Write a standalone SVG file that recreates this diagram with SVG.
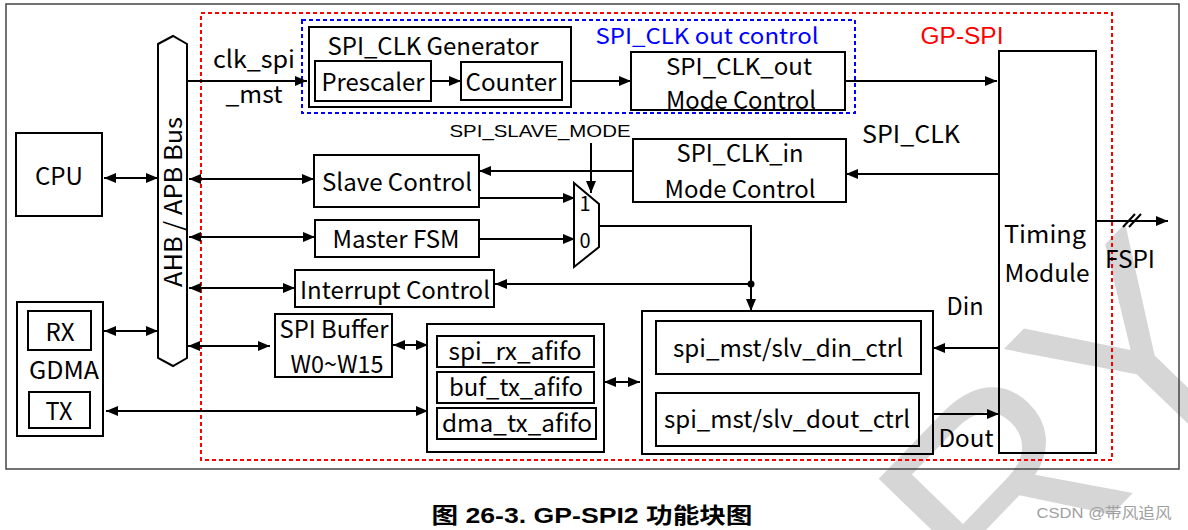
<svg xmlns="http://www.w3.org/2000/svg" width="1188" height="530" viewBox="0 0 1188 530">
<style>
.box{fill:none;stroke:#000;stroke-width:2}
.ln{fill:none;stroke:#000;stroke-width:2}
.t{font-family:"Noto Sans CJK SC","Noto Sans",sans-serif;font-size:24px;fill:#000;text-anchor:middle}
.a{font-family:"Liberation Sans",Arial,sans-serif;fill:#000;text-anchor:middle}
</style>
<defs>
<marker id="ah" markerUnits="userSpaceOnUse" markerWidth="12" markerHeight="12" viewBox="0 0 12 12" refX="12" refY="6" orient="auto-start-reverse">
<path d="M0,1 L12,6 L0,11 Z" fill="#000"/>
</marker>
</defs>
<rect width="1188" height="530" fill="#fff"/>
<g id="watermark">
<text transform="translate(1268,353) rotate(-46)" x="0" y="0" style="font-family:'Liberation Sans',Arial,sans-serif;font-size:280px;fill:#d6d6d6;text-anchor:end">PRELIMINARY</text>
</g>
<rect x="6" y="4" width="1173" height="465" fill="none" stroke="#444" stroke-width="1.5"/>
<g id="gp-spi">
<rect x="201" y="13" width="911" height="447" fill="none" stroke="#f00" stroke-width="2" stroke-dasharray="4,3"/>
<text class="a" x="962" y="44" font-size="23" style="fill:#f00" textLength="83" lengthAdjust="spacingAndGlyphs">GP-SPI</text>
</g>
<g id="clk-out-control">
<rect x="302" y="20" width="553" height="93" fill="none" stroke="#00f" stroke-width="2" stroke-dasharray="4,3"/>
<text class="t" x="707" y="44" style="fill:#00f;font-size:22px" textLength="223" lengthAdjust="spacingAndGlyphs">SPI_CLK out control</text>
</g>
<g id="cpu">
<rect class="box" x="16" y="133" width="86" height="83"/>
<text class="t" x="59" y="185" textLength="48" lengthAdjust="spacingAndGlyphs">CPU</text>
</g>
<g id="bus">
<path class="box" d="M158,44 L173,36 L187,44 L187,358 L173,366 L158,358 Z"/>
<text class="t" transform="translate(182,202) rotate(-90)" x="0" y="0" textLength="170" lengthAdjust="spacingAndGlyphs">AHB / APB Bus</text>
</g>
<g id="gdma">
<rect class="box" x="17" y="302" width="86" height="134"/>
<rect class="box" x="28" y="311" width="63" height="39"/>
<rect class="box" x="29" y="392" width="61" height="36"/>
<text class="t" x="60" y="341" textLength="29" lengthAdjust="spacingAndGlyphs">RX</text>
<text class="t" x="64" y="379" textLength="70" lengthAdjust="spacingAndGlyphs">GDMA</text>
<text class="t" x="59" y="420" textLength="27" lengthAdjust="spacingAndGlyphs">TX</text>
</g>
<g id="clk-gen">
<rect class="box" x="309" y="27" width="262" height="80"/>
<text class="t" x="433" y="55" textLength="211" lengthAdjust="spacingAndGlyphs">SPI_CLK Generator</text>
<rect class="box" x="315" y="61" width="116" height="40"/>
<text class="t" x="373" y="91" textLength="103" lengthAdjust="spacingAndGlyphs">Prescaler</text>
<rect class="box" x="461" y="62" width="101" height="38"/>
<text class="t" x="511" y="91" textLength="91" lengthAdjust="spacingAndGlyphs">Counter</text>
</g>
<g id="clk-out">
<rect class="box" x="631" y="52" width="214" height="58"/>
<text class="t" x="739" y="75" style="font-size:23px" textLength="146" lengthAdjust="spacingAndGlyphs">SPI_CLK_out</text>
<text class="t" x="741" y="109" textLength="150" lengthAdjust="spacingAndGlyphs">Mode Control</text>
</g>
<g id="clk-in">
<rect class="box" x="633" y="139" width="213" height="63"/>
<text class="t" x="740" y="162" textLength="127" lengthAdjust="spacingAndGlyphs">SPI_CLK_in</text>
<text class="t" x="740" y="198" textLength="151" lengthAdjust="spacingAndGlyphs">Mode Control</text>
</g>
<g id="slave">
<rect class="box" x="314" y="155" width="165" height="52"/>
<text class="t" x="397" y="191" textLength="150" lengthAdjust="spacingAndGlyphs">Slave Control</text>
</g>
<g id="master">
<rect class="box" x="315" y="220" width="164" height="37"/>
<text class="t" x="396" y="248" textLength="127" lengthAdjust="spacingAndGlyphs">Master FSM</text>
</g>
<g id="mux">
<path class="box" d="M574,183 L599,204 L599,247 L574,267 Z"/>
<text class="t" x="585" y="211" style="font-size:20px">1</text>
<text class="t" x="585" y="248" style="font-size:20px">0</text>
</g>
<g id="interrupt">
<rect class="box" x="295" y="270" width="199" height="37"/>
<text class="t" x="395" y="299" textLength="190" lengthAdjust="spacingAndGlyphs">Interrupt Control</text>
</g>
<g id="buffer">
<rect class="box" x="275" y="314" width="117" height="63"/>
<text class="t" x="334" y="338" textLength="109" lengthAdjust="spacingAndGlyphs">SPI Buffer</text>
<text class="t" x="337" y="373" textLength="93" lengthAdjust="spacingAndGlyphs">W0~W15</text>
</g>
<g id="afifo">
<rect class="box" x="427" y="324" width="177" height="128"/>
<rect class="box" x="437" y="336" width="157" height="31"/>
<rect class="box" x="437" y="372" width="157" height="31"/>
<rect class="box" x="437" y="408" width="159" height="31"/>
<text class="t" x="515" y="360" textLength="133" lengthAdjust="spacingAndGlyphs">spi_rx_afifo</text>
<text class="t" x="516" y="396" textLength="134" lengthAdjust="spacingAndGlyphs">buf_tx_afifo</text>
<text class="t" x="517" y="432" textLength="150" lengthAdjust="spacingAndGlyphs">dma_tx_afifo</text>
</g>
<g id="ctrl">
<rect class="box" x="642" y="311" width="291" height="143"/>
<rect class="box" x="656" y="321" width="265" height="53"/>
<rect class="box" x="656" y="393" width="263" height="53"/>
<text class="t" x="788" y="357" textLength="230" lengthAdjust="spacingAndGlyphs">spi_mst/slv_din_ctrl</text>
<text class="t" x="787" y="428" textLength="246" lengthAdjust="spacingAndGlyphs">spi_mst/slv_dout_ctrl</text>
</g>
<g id="timing">
<rect class="box" x="999" y="51" width="97" height="402"/>
<text class="t" x="1045" y="243" textLength="82" lengthAdjust="spacingAndGlyphs">Timing</text>
<text class="t" x="1047" y="282" textLength="85" lengthAdjust="spacingAndGlyphs">Module</text>
</g>
<g id="connectors">
<line class="ln" x1="104" y1="178" x2="158" y2="178" marker-start="url(#ah)" marker-end="url(#ah)"/>
<line class="ln" x1="104" y1="331" x2="158" y2="331" marker-start="url(#ah)" marker-end="url(#ah)"/>
<line class="ln" x1="106" y1="411" x2="428" y2="411" marker-start="url(#ah)" marker-end="url(#ah)"/>
<line class="ln" x1="187" y1="81" x2="307" y2="81" marker-end="url(#ah)"/>
<line class="ln" x1="431" y1="81" x2="461" y2="81" marker-end="url(#ah)"/>
<line class="ln" x1="571" y1="81" x2="631" y2="81" marker-end="url(#ah)"/>
<line class="ln" x1="845" y1="81" x2="997" y2="81" marker-end="url(#ah)"/>
<line class="ln" x1="189" y1="179" x2="314" y2="179" marker-start="url(#ah)" marker-end="url(#ah)"/>
<line class="ln" x1="189" y1="237" x2="315" y2="237" marker-start="url(#ah)" marker-end="url(#ah)"/>
<line class="ln" x1="189" y1="288" x2="295" y2="288" marker-start="url(#ah)" marker-end="url(#ah)"/>
<line class="ln" x1="188" y1="346" x2="270" y2="346" marker-start="url(#ah)" marker-end="url(#ah)"/>
<line class="ln" x1="393" y1="345" x2="428" y2="345" marker-start="url(#ah)" marker-end="url(#ah)"/>
<line class="ln" x1="604" y1="382" x2="640" y2="382" marker-start="url(#ah)" marker-end="url(#ah)"/>
<line class="ln" x1="999" y1="174" x2="846" y2="174" marker-end="url(#ah)"/>
<line class="ln" x1="633" y1="171" x2="479" y2="171" marker-end="url(#ah)"/>
<line class="ln" x1="591" y1="143" x2="591" y2="193" marker-end="url(#ah)"/>
<line class="ln" x1="479" y1="198" x2="575" y2="198" marker-end="url(#ah)"/>
<line class="ln" x1="479" y1="239" x2="575" y2="239" marker-end="url(#ah)"/>
<polyline class="ln" points="599,226 751,226 751,311" marker-end="url(#ah)"/>
<line class="ln" x1="751" y1="284" x2="495" y2="284" marker-end="url(#ah)"/>
<circle cx="751" cy="284" r="3.5" fill="#000"/>
<line class="ln" x1="999" y1="348" x2="933" y2="348" marker-end="url(#ah)"/>
<line class="ln" x1="933" y1="414" x2="999" y2="414" marker-end="url(#ah)"/>
<line class="ln" x1="1096" y1="221" x2="1168" y2="221" marker-end="url(#ah)"/>
<line class="ln" x1="1123" y1="227" x2="1135" y2="214"/>
<line class="ln" x1="1129" y1="227" x2="1141" y2="214"/>
</g>
<g id="labels">
<text class="t" x="254" y="68" textLength="82" lengthAdjust="spacingAndGlyphs">clk_spi</text>
<text class="t" x="254" y="103" textLength="57" lengthAdjust="spacingAndGlyphs">_mst</text>
<text class="a" x="540" y="137" font-size="17" textLength="181" lengthAdjust="spacingAndGlyphs">SPI_SLAVE_MODE</text>
<text class="t" x="911" y="143" textLength="98" lengthAdjust="spacingAndGlyphs">SPI_CLK</text>
<text class="t" x="965" y="315" textLength="37" lengthAdjust="spacingAndGlyphs">Din</text>
<text class="t" x="966" y="447" textLength="55" lengthAdjust="spacingAndGlyphs">Dout</text>
<text class="t" x="1130" y="268" textLength="50" lengthAdjust="spacingAndGlyphs">FSPI</text>
</g>
<g id="caption">
<text class="a" x="592" y="523" font-size="22" font-weight="bold" style="font-family:'Liberation Sans','Noto Sans CJK SC',sans-serif" textLength="321" lengthAdjust="spacingAndGlyphs">图 26-3. GP-SPI2 功能块图</text>
<text class="a" x="1104" y="518" font-size="15" style="fill:#a0a0a0;font-family:'Liberation Sans','Noto Sans CJK SC',sans-serif" textLength="135" lengthAdjust="spacingAndGlyphs">CSDN @带风追风</text>
</g>
</svg>
